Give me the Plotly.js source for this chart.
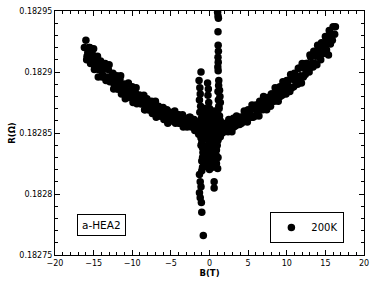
<!DOCTYPE html>
<html>
<head>
<meta charset="utf-8">
<script src="https://cdn.plot.ly/plotly-3.0.1.min.js"></script>
<style>html,body{margin:0;padding:0;background:#fff;}#chart{width:372px;height:281px;}</style>
</head>
<body>
<div id="chart"></div>
<script>
// Left branch (B < 0), five rows across the band
const leftB = [
  -16.2,
  -16,-15.5,-15,-14.5,-14,-13.5,-13,-12.5,-12,-11.5,-11,-10.5,-10,-9.5,-9,-8.5,-8,-7.5,-7,-6.5,-6,-5.5,-5,-4.5,-4,-3.5,-3,-2.5,-2,-1.5,
  -15.6,-15.1,-14.6,-14.1,-13.6,-13.1,-12.6,-12.1,-11.6,-11.1,-10.6,-10.1,-9.6,-9.1,-8.6,-8.1,-7.6,-7.1,-6.6,-6.1,-5.6,-5.1,-4.6,-4.1,-3.6,-3.1,-2.6,-2.1,-1.6,
  -15.75,-15.25,-14.75,-14.25,-13.75,-13.25,-12.75,-12.25,-11.75,-11.25,-10.75,-10.25,-9.75,-9.25,-8.75,-8.25,-7.75,-7.25,-6.75,-6.25,-5.75,-5.25,-4.75,-4.25,-3.75,-3.25,-2.75,-2.25,-1.75,-1.25,
  -15.85,-15.35,-14.85,-14.35,-13.85,-13.35,-12.85,-12.35,-11.85,-11.35,-10.85,-10.35,-9.85,-9.35,-8.85,-8.35,-7.85,-7.35,-6.85,-6.35,-5.85,-5.35,-4.85,-4.35,-3.85,-3.35,-2.85,-2.35,-1.85,-1.35,
  -15.9,-15.4,-14.9,-14.4,-13.9,-13.4,-12.9,-12.4,-11.9,-11.4,-10.9,-10.4,-9.9,-9.4,-8.9,-8.4,-7.9,-7.4,-6.9,-6.4,-5.9,-5.4,-4.9,-4.4,-3.9,-3.4,-2.9,-2.4,-1.9,-1.4
];
const leftR = [
  0.182920,
  0.182926,0.182920,0.182919,0.182913,0.182907,0.182907,0.182906,0.182899,0.182897,0.182897,0.182890,0.182891,0.182888,0.182887,0.182881,0.182881,0.182876,0.182876,0.182876,0.182871,0.182871,0.182869,0.182866,0.182868,0.182865,0.182865,0.182861,0.182863,0.182861,0.182857,
  0.182920,0.182914,0.182911,0.182909,0.182903,0.182902,0.182898,0.182893,0.182894,0.182890,0.182890,0.182885,0.182883,0.182881,0.182877,0.182878,0.182874,0.182871,0.182872,0.182869,0.182866,0.182867,0.182865,0.182865,0.182862,0.182862,0.182863,0.182859,0.182857,
  0.182916,0.182914,0.182907,0.182905,0.182904,0.182896,0.182896,0.182894,0.182889,0.182889,0.182885,0.182881,0.182882,0.182878,0.182878,0.182873,0.182872,0.182871,0.182867,0.182869,0.182865,0.182863,0.182864,0.182862,0.182859,0.182861,0.182859,0.182859,0.182855,0.182851,
  0.182913,0.182910,0.182903,0.182902,0.182898,0.182894,0.182894,0.182890,0.182886,0.182885,0.182882,0.182882,0.182877,0.182876,0.182874,0.182869,0.182869,0.182868,0.182865,0.182864,0.182865,0.182860,0.182860,0.182860,0.182858,0.182856,0.182857,0.182855,0.182853,0.182850,
  0.182910,0.182907,0.182902,0.182896,0.182896,0.182893,0.182892,0.182886,0.182886,0.182882,0.182878,0.182879,0.182875,0.182874,0.182874,0.182869,0.182869,0.182866,0.182863,0.182864,0.182861,0.182858,0.182860,0.182858,0.182858,0.182855,0.182855,0.182856,0.182852,0.182849
];

// Right branch (B > 0)
const rightB = [
  1.5,2,2.5,3,3.5,4,4.5,5,5.5,6,6.5,7,7.5,8,8.5,9,9.5,10,10.5,11,11.5,12,12.5,13,13.5,14,14.5,15,15.5,16,
  1.6,2.1,2.6,3.1,3.6,4.1,4.6,5.1,5.6,6.1,6.6,7.1,7.6,8.1,8.6,9.1,9.6,10.1,10.6,11.1,11.6,12.1,12.6,13.1,13.6,14.1,14.6,15.1,15.6,
  1.25,1.75,2.25,2.75,3.25,3.75,4.25,4.75,5.25,5.75,6.25,6.75,7.25,7.75,8.25,8.75,9.25,9.75,10.25,10.75,11.25,11.75,12.25,12.75,13.25,13.75,14.25,14.75,15.25,15.75,
  1.15,1.65,2.15,2.65,3.15,3.65,4.15,4.65,5.15,5.65,6.15,6.65,7.15,7.65,8.15,8.65,9.15,9.65,10.15,10.65,11.15,11.65,12.15,12.65,13.15,13.65,14.15,14.65,15.15,15.65,
  1.4,1.9,2.4,2.9,3.4,3.9,4.4,4.9,5.4,5.9,6.4,6.9,7.4,7.9,8.4,8.9,9.4,9.9,10.4,10.9,11.4,11.9,12.4,12.9,13.4,13.9,14.4,14.9,15.4,15.9,
  16.3,16.2
];
const rightR = [
  0.182857,0.182857,0.182861,0.182861,0.182864,0.182863,0.182868,0.182869,0.182873,0.182873,0.182876,0.182880,0.182879,0.182882,0.182887,0.182887,0.182892,0.182893,0.182898,0.182899,0.182903,0.182907,0.182907,0.182914,0.182917,0.182922,0.182924,0.182929,0.182934,0.182937,
  0.182855,0.182858,0.182857,0.182862,0.182862,0.182863,0.182867,0.182868,0.182872,0.182871,0.182874,0.182877,0.182876,0.182882,0.182884,0.182888,0.182888,0.182892,0.182896,0.182897,0.182903,0.182904,0.182907,0.182912,0.182915,0.182920,0.182922,0.182927,0.182932,
  0.182851,0.182855,0.182854,0.182857,0.182860,0.182858,0.182862,0.182865,0.182865,0.182870,0.182870,0.182870,0.182875,0.182876,0.182880,0.182880,0.182884,0.182888,0.182888,0.182894,0.182895,0.182897,0.182903,0.182905,0.182907,0.182913,0.182916,0.182921,0.182923,0.182928,
  0.182847,0.182850,0.182853,0.182852,0.182855,0.182859,0.182858,0.182861,0.182864,0.182863,0.182867,0.182870,0.182870,0.182873,0.182877,0.182878,0.182880,0.182884,0.182886,0.182887,0.182893,0.182894,0.182896,0.182902,0.182904,0.182907,0.182913,0.182915,0.182918,0.182923,
  0.182847,0.182851,0.182851,0.182851,0.182856,0.182857,0.182861,0.182859,0.182863,0.182864,0.182864,0.182869,0.182869,0.182872,0.182876,0.182876,0.182881,0.182882,0.182884,0.182888,0.182890,0.182891,0.182898,0.182900,0.182904,0.182906,0.182910,0.182916,0.182914,0.182926,
  0.182937,0.182931
];

// Low-field cusp and spike
const cuspB = [
  1.05,1.1,1.15,1.1,1.12,1.15,1.1,1.13,1.08,1.12,1.2,1.18,1.1,1.15,1.2,1.05,
  1.3,1.35,1.4,1.25,1.3,1.4,1.2,
  -1.1,-1.35,-1.25,-1.2,-1.3,-1.15,-1.25,-1.05,
  -0.25,-0.15,-0.2,-0.1,0.0,-0.3,
  -1.3,-1.2,-1.1,-1.0,-0.9,-0.85,-0.8,-0.75,-0.9,-1.0,-1.3,-1.2,-1.1,-1.3,-1.2,-1.05,-1.0,-0.8,
  1.3,1.2,1.1,1.0,0.9,0.85,0.8,0.9,1.05,0.6,0.6,
  -0.6,-0.5,-0.4,-0.3,-0.2,-0.1,0.0,0.1,0.2,0.3,0.4,0.5,-0.5,-0.3,0.1,0.3,-0.6,0.2,-0.1,0.6,0.7,0.4,-0.4,0.0,
  -1.2,-1.0,-0.8,-0.7,-1.1,-0.6,-0.9,-0.5,-0.4,-0.2,0.0,0.2,0.4,0.5,0.8,0.9,1.0,1.2,0.7,0.6,-0.8,-0.6,0.3,-0.2,0.9,1.1,-1.0,0.15,-0.35,0.65
];
const cuspR = [
  0.182949,0.182946,0.182944,0.182933,0.182922,0.182917,0.182912,0.182908,0.182904,0.182901,0.182893,0.182889,0.182884,0.182877,0.182872,0.182866,
  0.182885,0.182880,0.182875,0.182870,0.182864,0.182860,0.182855,
  0.182900,0.182893,0.182887,0.182882,0.182877,0.182872,0.182867,0.182862,
  0.182891,0.182886,0.182881,0.182875,0.182870,0.182866,
  0.182855,0.182850,0.182846,0.182842,0.182838,0.182834,0.182830,0.182826,0.182822,0.182819,0.182816,0.182810,0.182806,0.182801,0.182797,0.182793,0.182785,0.182766,
  0.182852,0.182848,0.182844,0.182840,0.182836,0.182832,0.182828,0.182825,0.182821,0.182810,0.182805,
  0.182860,0.182855,0.182850,0.182845,0.182840,0.182836,0.182832,0.182838,0.182844,0.182850,0.182856,0.182861,0.182835,0.182828,0.182825,0.182830,0.182845,0.182860,0.182855,0.182845,0.182838,0.182840,0.182862,0.182848,
  0.182860,0.182857,0.182852,0.182848,0.182840,0.182838,0.182830,0.182825,0.182830,0.182822,0.182820,0.182828,0.182822,0.182835,0.182845,0.182850,0.182855,0.182858,0.182860,0.182868,0.182865,0.182870,0.182865,0.182860,0.182862,0.182830,0.182827,0.182852,0.182855,0.182852
];

const seriesName = '200K';
const sampleLabel = 'a-HEA2';
const xTitle = 'B(T)';
const yTitle = 'R(\u03A9)';

const B = leftB.concat(cuspB, rightB);
const R = leftR.concat(cuspR, rightR);

const font = 'DejaVu Sans, Verdana, sans-serif';

const trace = {
  x: B, y: R, type: 'scatter', mode: 'markers', name: seriesName,
  marker: {color: '#000', size: 7.5, line: {width: 0}}
};

const layout = {
  width: 372, height: 281,
  margin: {l: 55, r: 8, t: 11, b: 26},
  paper_bgcolor: '#fff', plot_bgcolor: '#fff',
  font: {family: font, size: 8, color: '#000'},
  showlegend: true,
  legend: {
    x: 0.697, y: 0.176, xanchor: 'left', yanchor: 'top',
    bordercolor: '#000', borderwidth: 1, bgcolor: '#fff',
    font: {family: font, size: 10, color: '#000'}
  },
  xaxis: {
    range: [-20, 20], dtick: 5, tick0: 0,
    ticks: 'inside', ticklen: 5, tickwidth: 1, tickcolor: '#000',
    minor: {dtick: 1, ticks: 'inside', ticklen: 3, tickcolor: '#000'},
    showline: true, linecolor: '#000', linewidth: 1, mirror: 'ticks',
    showgrid: false, zeroline: false,
    tickfont: {family: font, size: 8},
    title: {text: xTitle, font: {family: font, size: 8.5, weight: 'bold'}, standoff: 2},
    automargin: false
  },
  yaxis: {
    range: [0.18275, 0.18295], dtick: 0.00005, tick0: 0.18275,
    ticks: 'inside', ticklen: 5, tickwidth: 1, tickcolor: '#000',
    minor: {dtick: 0.00001, ticks: 'inside', ticklen: 3, tickcolor: '#000'},
    showline: true, linecolor: '#000', linewidth: 1, mirror: 'ticks',
    showgrid: false, zeroline: false,
    tickfont: {family: font, size: 8},
    title: {text: yTitle, font: {family: font, size: 8.5, weight: 'bold'}, standoff: 2},
    automargin: false
  },
  annotations: [{
    text: sampleLabel, xref: 'paper', yref: 'paper', x: 0.149, y: 0.123,
    xanchor: 'center', yanchor: 'middle', showarrow: false,
    font: {family: font, size: 10.5, color: '#000'},
    bordercolor: '#000', borderwidth: 1, borderpad: 4, bgcolor: '#fff'
  }]
};

Plotly.newPlot('chart', [trace], layout, {displayModeBar: false, staticPlot: true});
</script>
</body>
</html>
